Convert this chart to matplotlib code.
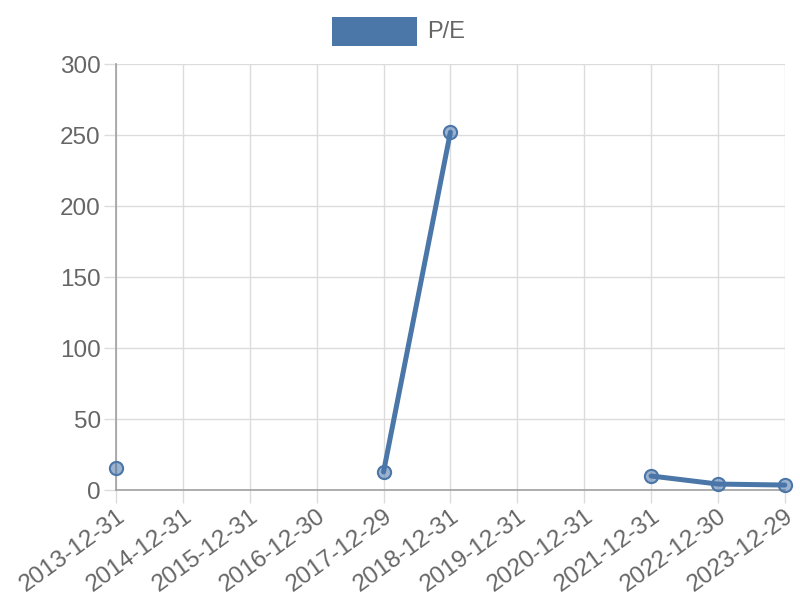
import matplotlib.pyplot as plt
from matplotlib.patches import Rectangle
import numpy as np

plt.rcParams['font.family'] = ['Liberation Sans', 'DejaVu Sans']

dates = ["2013-12-31", "2014-12-31", "2015-12-31", "2016-12-30", "2017-12-29",
         "2018-12-31", "2019-12-31", "2020-12-31", "2021-12-31", "2022-12-30",
         "2023-12-29"]
pe = [15.5, np.nan, np.nan, np.nan, 12.7, 252.0, np.nan, np.nan, 9.9, 4.2, 3.5]

line_color = "#4a76a8"
text_color = "#666666"
grid_color = "#dcdcdc"
axis_color = "#a0a0a0"

fig = plt.figure(figsize=(8, 6), dpi=100)
ax = fig.add_axes([0.145, 0.1833, 0.836, 0.71])

x = np.arange(len(dates))
ax.plot(x, pe, color=line_color, linewidth=3.6, solid_capstyle="round",
        marker="o", markersize=9.5, markerfacecolor=(0.29, 0.46, 0.66, 0.55),
        markeredgecolor=line_color, markeredgewidth=1.5, clip_on=False, zorder=3)

ax.set_xlim(0, len(dates) - 1)
ax.set_ylim(0, 300)
ax.set_xticks(x)
ax.set_xticklabels(dates, rotation=36, ha="right", rotation_mode="anchor")
ax.set_yticks(range(0, 301, 50))

ax.grid(True, color=grid_color, linewidth=1)
ax.set_axisbelow(True)
for side in ["top", "right"]:
    ax.spines[side].set_visible(False)
for side in ["left", "bottom"]:
    ax.spines[side].set_color(axis_color)
    ax.spines[side].set_linewidth(1.2)
ax.tick_params(axis="both", colors=grid_color, length=9, width=1,
               labelcolor=text_color, labelsize=17.5, pad=2)

# legend drawn at top centre
fig.patches.append(Rectangle((332 / 800, 1 - 46 / 600), 85 / 800, 29 / 600,
                             transform=fig.transFigure, facecolor=line_color,
                             edgecolor="none"))
fig.text(427 / 800, 1 - 32 / 600, "P/E", color=text_color, fontsize=17,
         va="center", ha="left")

fig.savefig("out.png", dpi=100)
